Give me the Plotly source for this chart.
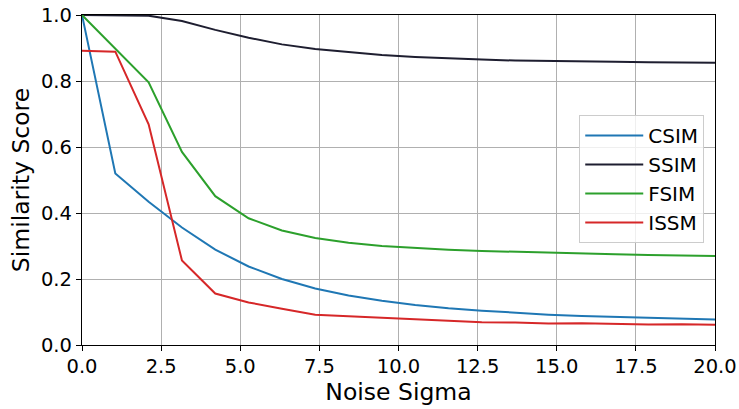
import plotly.graph_objects as go

sigma = [i * 20 / 19 for i in range(20)]
csim = [1.0, 0.52, 0.434, 0.356, 0.289, 0.238, 0.200, 0.171, 0.150, 0.134, 0.121, 0.111, 0.104, 0.097, 0.092, 0.088, 0.085, 0.082, 0.079, 0.077]
ssim = [1.0, 1.0, 0.998, 0.982, 0.955, 0.931, 0.911, 0.897, 0.887, 0.879, 0.873, 0.868, 0.865, 0.862, 0.860, 0.859, 0.858, 0.857, 0.856, 0.855]
fsim = [1.0, 0.899, 0.796, 0.585, 0.451, 0.384, 0.347, 0.324, 0.310, 0.300, 0.294, 0.289, 0.285, 0.282, 0.279, 0.277, 0.275, 0.273, 0.272, 0.270]
issm = [0.892, 0.889, 0.669, 0.256, 0.156, 0.129, 0.110, 0.092, 0.087, 0.082, 0.077, 0.073, 0.069, 0.068, 0.065, 0.066, 0.064, 0.062, 0.063, 0.061]

names = ["CSIM", "SSIM", "FSIM", "ISSM"]
series = [csim, ssim, fsim, issm]
colors = ["#1f77b4", "#1e1e30", "#2ca02c", "#d62728"]

fig = go.Figure()
for n, s, c in zip(names, series, colors):
    fig.add_trace(go.Scatter(x=sigma, y=s, mode="lines", name=n,
                             line=dict(color=c, width=2)))

font = "DejaVu Sans"
axis_common = dict(
    showline=True, linecolor="black", linewidth=1.3, mirror=True,
    showgrid=True, gridcolor="#b0b0b0", gridwidth=1,
    ticks="outside", ticklen=5, tickcolor="black", tickwidth=1.3,
    tickfont=dict(size=19.5, color="black", family=font),
    zeroline=False, tickformat=".1f", automargin=False,
    ticklabeloverflow="allow",
)
fig.update_layout(
    width=739, height=409,
    margin=dict(l=82, r=24, t=15, b=64),
    paper_bgcolor="white", plot_bgcolor="white",
    font=dict(family=font, color="black"),
    xaxis=dict(range=[0, 20], tick0=0, dtick=2.5, ticklabelstandoff=-2,
               title=dict(text="Noise Sigma", font=dict(size=23.5, family=font), standoff=2),
               **axis_common),
    yaxis=dict(range=[0, 1], tick0=0, dtick=0.2,
               title=dict(text="Similarity Score", font=dict(size=23.5, family=font), standoff=4),
               **axis_common),
    legend=dict(x=0.983, y=0.697, xanchor="right", yanchor="top",
                bgcolor="rgba(255,255,255,0.8)", bordercolor="#cccccc", borderwidth=1,
                font=dict(size=20, family=font), itemwidth=58),
    showlegend=True,
)
fig.write_html("out.html", config={"displayModeBar": False},
               post_script="document.body.style.margin='0px';document.body.style.overflow='hidden';")
